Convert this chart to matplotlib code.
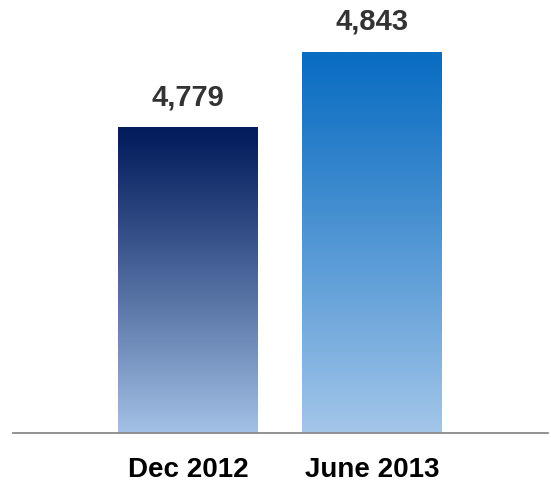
import numpy as np
import matplotlib
matplotlib.use("Agg")
import matplotlib.pyplot as plt
from matplotlib.colors import to_rgb
from matplotlib.transforms import ScaledTranslation

categories = ["Dec 2012", "June 2013"]
values = [4779, 4843]
labels = ["4,779", "4,843"]
top_colors = ["#021c5c", "#0a6dc2"]
bottom_colors = ["#a3c1e6", "#a3c6e9"]

plt.rcParams["font.family"] = ["Liberation Sans", "DejaVu Sans"]

fig = plt.figure(figsize=(5.51, 4.83), dpi=100)
ax = fig.add_axes([13 / 551, 50 / 483, 535 / 551, 433 / 483])

y_min = 4518
px_per_unit = 381 / (4843 - 4518)
y_max = y_min + 433 / px_per_unit
width = 0.76

for i, (v, lab) in enumerate(zip(values, labels)):
    c_top = np.array(to_rgb(top_colors[i]))
    c_bot = np.array(to_rgb(bottom_colors[i]))
    t = np.linspace(0, 1, 256)[:, None] ** 1.1
    grad = (c_top * (1 - t) + c_bot * t)[:, None, :]
    ax.imshow(grad, extent=[i - width / 2, i + width / 2, y_min, v],
              aspect="auto", origin="upper", zorder=2, interpolation="bilinear")
    ax.text(i, v, lab, ha="center", va="baseline", fontsize=21,
            fontweight="bold", color="#333333",
            transform=ax.transData + ScaledTranslation(0, 22 / 100, fig.dpi_scale_trans))

ax.set_xlim(-0.951, 1.957)
ax.set_ylim(y_min, y_max)
ax.set_xticks(range(len(categories)))
ax.set_xticklabels(categories, fontsize=20, fontweight="bold", color="black")
# labels in the original sit slightly off the bar centres
for tl, dx in zip(ax.get_xticklabels(), [7, -5]):
    tl.set_transform(tl.get_transform() + ScaledTranslation(dx / 100, 0, fig.dpi_scale_trans))
ax.tick_params(axis="x", length=0, pad=17)
ax.set_yticks([])
for s in ["top", "right", "left"]:
    ax.spines[s].set_visible(False)
ax.spines["bottom"].set_color("#8a8a8a")
ax.spines["bottom"].set_linewidth(1.3)
ax.spines["bottom"].set_zorder(3)

fig.savefig("out.png", dpi=100)
